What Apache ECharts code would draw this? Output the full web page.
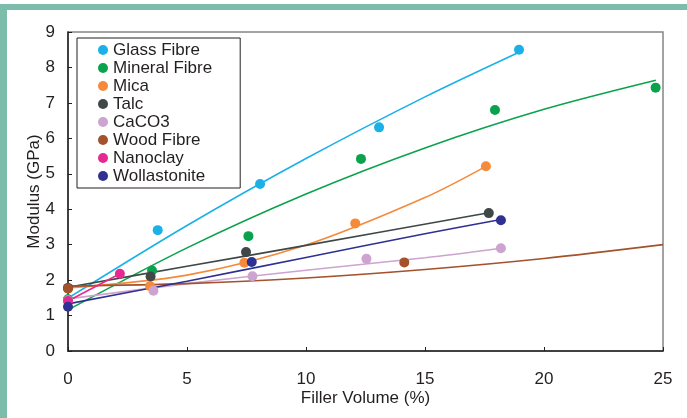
<!DOCTYPE html>
<html>
<head>
<meta charset="utf-8">
<script src="https://cdn.jsdelivr.net/npm/echarts@6/dist/echarts.min.js"></script>
<style>
  html, body { margin: 0; padding: 0; background: #fff; }
  #chart { width: 687px; height: 418px; }
</style>
</head>
<body>
<div id="chart"></div>
<script>
// measured points [filler volume %, modulus GPa]
const glassFibre = [[0, 1.45], [3.77, 3.41], [8.07, 4.71], [13.07, 6.31], [18.95, 8.5]];
const mineralFibre = [[0, 1.46], [3.53, 2.27], [7.58, 3.24], [12.31, 5.42], [17.94, 6.8], [24.69, 7.43]];
const mica = [[0, 1.76], [3.45, 1.83], [7.41, 2.49], [12.07, 3.6], [17.56, 5.21]];
const talc = [[0, 1.78], [3.47, 2.1], [7.48, 2.79], [17.68, 3.89]];
const caco3 = [[0, 1.43], [3.59, 1.7], [7.75, 2.11], [12.54, 2.6], [18.19, 2.9]];
const woodFibre = [[0, 1.77], [14.13, 2.5]];
const nanoclay = [[0, 1.41], [2.18, 2.18]];
const wollastonite = [[0, 1.25], [7.72, 2.51], [18.19, 3.69]];

// trend lines
const glassFit = [[0, 1.49], [5, 3.54], [10, 5.43], [15, 7.17], [18.95, 8.43]];
const mineralFit = [[0, 1.16], [5, 2.91], [10, 4.43], [15, 5.73], [20, 6.82], [24.7, 7.64]];
const micaFit = [[0, 1.78], [5, 2.14], [10, 2.99], [15, 4.33], [17.56, 5.21]];
const talcFit = [[0, 1.8], [5, 2.39], [10, 2.98], [17.68, 3.9]];
const caco3Fit = [[0, 1.47], [5, 1.9], [10, 2.28], [15, 2.63], [18.19, 2.9]];
const woodFit = [[0, 1.83], [5, 1.9], [10, 2.06], [15, 2.3], [20, 2.61], [25, 3.0]];
const nanoFit = [[0, 1.41], [2.18, 2.18]];
const wollFit = [[0, 1.33], [5, 1.97], [10, 2.64], [15, 3.31], [18.19, 3.71]];

const xTicks = [0, 5, 10, 15, 20, 25];
const yTicks = [0, 1, 2, 3, 4, 5, 6, 7, 8, 9];

const materials = [
  { name: "Glass Fibre", color: "#1bb1e7", pts: glassFibre, fit: glassFit },
  { name: "Mineral Fibre", color: "#0ba24d", pts: mineralFibre, fit: mineralFit },
  { name: "Mica", color: "#f58a3a", pts: mica, fit: micaFit },
  { name: "Talc", color: "#3f4747", pts: talc, fit: talcFit },
  { name: "CaCO3", color: "#cda3cf", pts: caco3, fit: caco3Fit },
  { name: "Wood Fibre", color: "#a3522b", pts: woodFibre, fit: woodFit },
  { name: "Nanoclay", color: "#e6298e", pts: nanoclay, fit: nanoFit },
  { name: "Wollastonite", color: "#2e3192", pts: wollastonite, fit: wollFit },
];

const font = "Liberation Sans, Arial, sans-serif";
const ink = "#231f20";
const series = [];
materials.forEach((m, i) => {
  series.push({
    type: "line",
    name: m.name + " fit",
    data: m.fit,
    smooth: 0.3,
    showSymbol: false,
    silent: true,
    lineStyle: { color: m.color, width: 1.6 },
    z: 2 + i * 0.01,
  });
});
materials.forEach((m, i) => {
  series.push({
    type: "scatter",
    name: m.name,
    data: m.pts,
    symbol: "circle",
    symbolSize: 10,
    itemStyle: { color: m.color, opacity: 1 },
    z: 3 + i * 0.01,
  });
});

const chart = echarts.init(document.getElementById("chart"));
chart.setOption({
  animation: false,
  textStyle: { fontFamily: font },
  graphic: [
    { type: "rect", shape: { x: 0, y: 4, width: 687, height: 6 }, style: { fill: "#7bbcaa" }, z: -1 },
    { type: "rect", shape: { x: 0, y: 4, width: 7, height: 414 }, style: { fill: "#7bbcaa" }, z: -1 },
  ],
  grid: {
    left: 68, right: 24, top: 32, bottom: 67,
    show: true, borderColor: "#858585", borderWidth: 1.5,
  },
  legend: {
    data: materials.map((m) => m.name),
    orient: "vertical",
    left: 77, top: 38,
    icon: "circle",
    itemWidth: 10, itemHeight: 10, itemGap: 0,
    padding: [3, 28, 3, 21],
    borderColor: ink, borderWidth: 1,
    backgroundColor: "#fff",
    textStyle: { fontFamily: font, fontSize: 17, color: ink, lineHeight: 18 },
  },
  xAxis: {
    type: "value", min: xTicks[0], max: xTicks[xTicks.length - 1], interval: 5,
    name: "Filler Volume (%)", nameLocation: "middle", nameGap: 39, nameMoveOverlap: false,
    nameTextStyle: { fontFamily: font, fontSize: 17, color: ink },
    axisLine: { lineStyle: { color: ink, width: 1.5 } },
    axisTick: { inside: true, length: 4, lineStyle: { color: ink } },
    axisLabel: { margin: 20, fontSize: 17, color: ink, fontFamily: font },
    splitLine: { show: false },
  },
  yAxis: {
    type: "value", min: yTicks[0], max: yTicks[yTicks.length - 1], interval: 1,
    name: "Modulus (GPa)", nameLocation: "middle", nameGap: 25, nameMoveOverlap: false,
    nameTextStyle: { fontFamily: font, fontSize: 17, color: ink },
    axisLine: { show: true, lineStyle: { color: ink, width: 1.5 } },
    axisTick: { show: true, inside: true, length: 4, lineStyle: { color: ink } },
    axisLabel: { margin: 13, fontSize: 17, color: ink, fontFamily: font },
    splitLine: { show: false },
  },
  series: series,
});
</script>
</body>
</html>
